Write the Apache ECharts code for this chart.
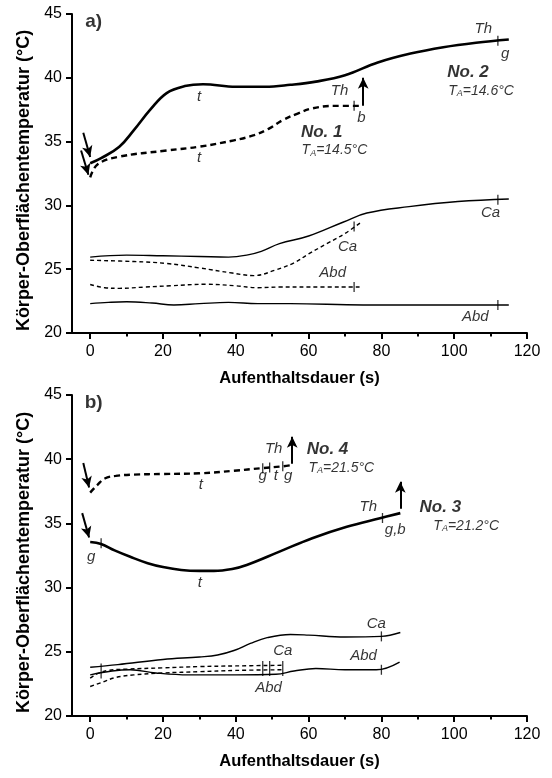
<!DOCTYPE html>
<html><head><meta charset="utf-8">
<script src="https://cdn.jsdelivr.net/npm/echarts@6/dist/echarts.min.js"></script>
<style>html,body{margin:0;padding:0;background:#fff}#c{width:552px;height:778px}</style>
</head><body><div id="c"></div>
<script>
// ---- axis ticks ----
const xTickValues = [0, 20, 40, 60, 80, 100, 120];
const xMinorValues = [10, 30, 50, 70, 90, 110];

// ---- panel a ----
const thNo2 = [[0,33.3],[3,33.7],[8,34.6],[12,35.9],[16.5,37.5],[21,38.8],[26,39.35],[31,39.5],[40,39.3],[48,39.3],[55,39.45],[62,39.7],[70,40.2],[79,41.2],[88,41.9],[97,42.4],[106,42.75],[115,43.0]];
const thNo1 = [[0,32.2],[2,33.2],[7.6,33.8],[21,34.3],[30,34.6],[39.5,35.1],[45,35.5],[49,36.0],[53,36.7],[57,37.2],[61,37.6],[67,37.8],[74,37.8]];
const caNo2 = [[0,25.95],[10,26.1],[20,26.05],[30,26.0],[38,25.95],[43,26.1],[47,26.4],[52,27.0],[60,27.6],[69.6,28.7],[76,29.4],[87.6,29.9],[101,30.3],[115,30.5]];
const caNo1 = [[0,25.7],[12,25.6],[21,25.45],[30,25.1],[39,24.7],[45,24.5],[51,24.95],[56,25.5],[60,26.2],[65,27.0],[70,27.8],[74.5,28.7]];
const abdNo1 = [[0,23.8],[4,23.55],[8,23.5],[15,23.6],[22,23.7],[32,23.82],[40,23.7],[46,23.55],[52,23.6],[60,23.6],[74,23.6]];
const abdNo2 = [[0,22.3],[5,22.4],[10,22.45],[17,22.35],[23,22.2],[30,22.3],[38,22.4],[46,22.3],[55,22.3],[75,22.2],[115,22.2]];

// ---- panel b ----
const thNo4 = [[0,37.4],[2,38.0],[4,38.5],[7,38.7],[12,38.8],[20,38.85],[30,38.9],[39.5,39.1],[47,39.3],[53,39.45],[55.5,39.55]];
const thNo3 = [[0,33.55],[3,33.4],[6.7,32.9],[11,32.4],[15.8,31.9],[20,31.6],[25,31.37],[30,31.3],[34,31.3],[39,31.45],[43,31.76],[52,32.8],[61,33.85],[70.5,34.74],[79.6,35.4],[85.2,35.8]];
const caNo3 = [[0,23.8],[7.6,24.0],[20,24.4],[30,24.6],[35,24.75],[39.5,25.1],[44,25.65],[48.6,26.1],[55,26.35],[60,26.3],[70,26.15],[80,26.2],[85.2,26.5]];
const abdNo3 = [[0,23.2],[6,23.5],[11,23.6],[18,23.35],[27,23.2],[40,23.2],[51,23.25],[56,23.5],[62,23.7],[70,23.6],[78.6,23.6],[85,24.2]];
const caNo4 = [[0,22.95],[2,23.3],[5,23.55],[10,23.65],[20,23.75],[30,23.85],[40,23.9],[53,23.95]];
const abdNo4 = [[0,22.3],[3,22.6],[7,23.0],[12,23.2],[20,23.35],[30,23.45],[40,23.55],[53,23.6]];

// ---- marker ticks, arrows and labels (data coordinates) ----
const ticksA = [[112,42.9],[72.5,37.8],[112,30.45],[72.5,28.35],[72.5,23.6],[112,22.2]];
const ticksB = [[3,33.45],[80.3,35.42],[47.4,39.3],[49.3,39.35],[52.9,39.45],[80,26.2],[80,23.6]];
const tallTicksB = [[3,23.5],[47.4,23.7],[49.3,23.7],[52.9,23.7]];
const arrowsA = [[[-1.9,35.7],[0,33.8]],[[-2.5,34.3],[-0.5,32.4]],[[75,37.8],[75,40.0]],[[115,43.0],[115,45.1]]];
const arrowsB = [[[-1.9,39.7],[-0.3,37.8]],[[-2.2,35.8],[-0.3,33.9]],[[55.5,39.65],[55.5,41.75]],[[85.2,36.15],[85.2,38.25]]];
const labelsA = [
  [0.96,44.37,'a)','p'],[29.9,38.5,'t','i'],[29.9,33.7,'t','i'],
  [108,43.8,'Th','i'],[114,41.9,'g','i'],[103.8,40.45,'No. 2','b'],[107.4,38.97,'14.6°C','ta'],
  [68.5,38.97,'Th','i'],[74.5,36.9,'b','i'],[63.6,35.7,'No. 1','b'],[67.1,34.3,'14.5°C','ta'],
  [110,29.4,'Ca','i'],[70.7,26.74,'Ca','i'],[66.6,24.7,'Abd','i'],[105.8,21.25,'Abd','i']
];
const labelsB = [
  [0.96,44.38,'b)','p'],[50.4,40.8,'Th','i'],[47.4,38.7,'g','i'],[51,38.7,'t','i'],[54.4,38.7,'g','i'],
  [65.2,40.8,'No. 4','b'],[69.0,39.31,'21.5°C','ta'],[30.4,38.0,'t','i'],
  [76.4,36.28,'Th','i'],[83.8,34.5,'g,b','i'],[96.2,36.28,'No. 3','b'],[103.3,34.8,'21.2°C','ta'],
  [0.3,32.4,'g','i'],[30.1,30.36,'t','i'],[78.6,27.2,'Ca','i'],[75.1,24.67,'Abd','i'],
  [52.9,25.06,'Ca','i'],[49,22.2,'Abd','i']
];

const F = 'Liberation Sans, Arial, sans-serif';
const K = '#000';

function xAxes(gi) {
  return [{
    gridIndex: gi, type: 'value', min: -5, max: 120,
    axisLine: { show: true, onZero: false, lineStyle: { color: K, width: 2 } },
    axisTick: { show: true, customValues: xTickValues, length: 6, lineStyle: { color: K, width: 2 } },
    axisLabel: { show: true, customValues: xTickValues, margin: 11, fontSize: 16, color: K, fontFamily: F },
    splitLine: { show: false },
    name: 'Aufenthaltsdauer (s)', nameLocation: 'middle', nameGap: 37,
    nameTextStyle: { fontSize: 16.5, fontWeight: 'bold', color: K, fontFamily: F }
  }, {
    gridIndex: gi, type: 'value', min: -5, max: 120, position: 'bottom',
    axisLine: { show: false },
    axisTick: { show: true, customValues: xMinorValues, length: 3.5, lineStyle: { color: K, width: 2 } },
    axisLabel: { show: false }, splitLine: { show: false }
  }];
}
function yAxis(gi) {
  return {
    gridIndex: gi, type: 'value', min: 20, max: 45, interval: 5,
    axisLine: { show: true, onZero: false, lineStyle: { color: K, width: 2 } },
    axisTick: { show: true, length: 6, lineStyle: { color: K, width: 2 } },
    axisLabel: { margin: 10, fontSize: 16, color: K, fontFamily: F },
    splitLine: { show: false },
    name: 'Körper-Oberflächentemperatur (°C)', nameLocation: 'middle', nameGap: 38,
    nameTextStyle: { fontSize: 18, fontWeight: 'bold', color: K, fontFamily: F, padding: [0, 14, 0, 0] }
  };
}
function lineS(data, gi, width, dash, arrows) {
  const s = {
    type: 'line', xAxisIndex: gi * 2, yAxisIndex: gi, data: data, smooth: 0.4,
    symbol: 'none', silent: true, clip: false,
    lineStyle: { color: K, width: width, type: dash || 'solid' }
  };
  if (arrows) {
    s.markLine = {
      silent: true, symbol: ['none', 'arrow'], symbolSize: [8, 11],
      lineStyle: { color: K, width: 2, type: 'solid' }, label: { show: false },
      data: arrows.map(a => [{ coord: a[0] }, { coord: a[1] }])
    };
  }
  return s;
}
function tickS(data, gi, h) {
  return { type: 'scatter', xAxisIndex: gi * 2, yAxisIndex: gi, data: data, symbol: 'rect',
    symbolSize: [1.3, h], itemStyle: { color: K }, silent: true, z: 5 };
}
function labelStyle(t, k) {
  const base = { show: true, position: 'inside', color: K, fontFamily: F };
  if (k === 'i') return Object.assign(base, { formatter: t, fontSize: 15, fontStyle: 'italic' });
  if (k === 'b') return Object.assign(base, { formatter: t, fontSize: 17, fontStyle: 'italic', fontWeight: 'bold' });
  if (k === 'p') return Object.assign(base, { formatter: t, fontSize: 19, fontWeight: 'bold' });
  return Object.assign(base, {
    formatter: '{t|T}{s|A}{t|=' + t + '}',
    rich: {
      t: { fontSize: 14, fontStyle: 'italic', fontFamily: F, color: K, lineHeight: 14 },
      s: { fontSize: 9, fontStyle: 'italic', fontFamily: F, color: K, lineHeight: 9, padding: [9, 0, 0, 0], verticalAlign: 'bottom' }
    }
  });
}
function labelS(arr, gi) {
  return { type: 'scatter', xAxisIndex: gi * 2, yAxisIndex: gi, symbolSize: 0, silent: true, z: 10,
    data: arr.map(d => ({ value: [d[0], d[1]], label: labelStyle(d[2], d[3]) })) };
}

const chart = echarts.init(document.getElementById('c'));
chart.setOption({
  animation: false,
  backgroundColor: '#fff',
  textStyle: { fontFamily: F },
  grid: [
    { left: 72, top: 14, width: 455, height: 319, containLabel: false, outerBoundsMode: 'none' },
    { left: 72, top: 395, width: 455, height: 321, containLabel: false, outerBoundsMode: 'none' }
  ],
  xAxis: xAxes(0).concat(xAxes(1)),
  yAxis: [yAxis(0), yAxis(1)],
  series: [
    lineS(thNo2, 0, 2.6, null, arrowsA),
    lineS(thNo1, 0, 2.4, [6, 4]),
    lineS(caNo2, 0, 1.4),
    lineS(caNo1, 0, 1.4, [4, 3]),
    lineS(abdNo1, 0, 1.4, [4, 3]),
    lineS(abdNo2, 0, 1.4),
    tickS(ticksA, 0, 10),
    labelS(labelsA, 0),
    lineS(thNo3, 1, 2.6, null, arrowsB),
    lineS(thNo4, 1, 2.4, [6, 4]),
    lineS(caNo3, 1, 1.4),
    lineS(abdNo3, 1, 1.4),
    lineS(caNo4, 1, 1.4, [4, 3]),
    lineS(abdNo4, 1, 1.4, [4, 3]),
    tickS(ticksB, 1, 10),
    tickS(tallTicksB, 1, 15),
    labelS(labelsB, 1)
  ]
});
</script></body></html>
